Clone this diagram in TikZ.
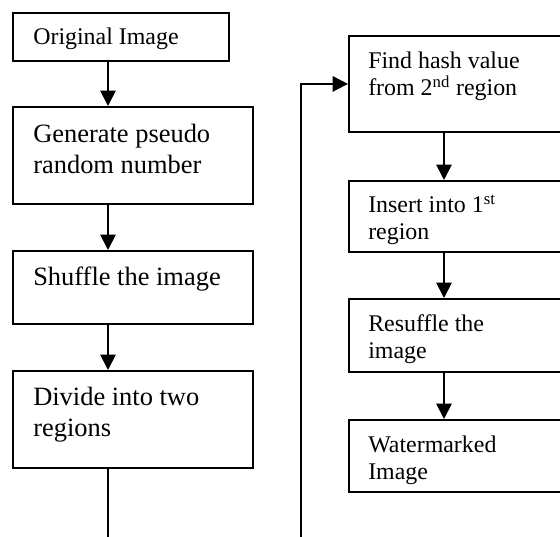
\documentclass[tikz,border=0pt]{standalone}
\usepackage{fontspec}
\setmainfont{Liberation Serif}
\usetikzlibrary{arrows.meta}

\begin{document}
\begin{tikzpicture}[x=0.025cm, y=-0.025cm,
    box/.style={rectangle, draw=black, line width=1.3pt, inner sep=0pt, anchor=north west},
    txtbig/.style={anchor=base west, inner sep=0pt, align=left, font=\fontsize{18.8}{22.3}\selectfont},
    txtsmall/.style={anchor=base west, inner sep=0pt, align=left, font=\fontsize{17}{19.2}\selectfont},
    arrow/.style={-{Triangle[length=11pt, width=11pt]}, line width=1.3pt}
]
\useasboundingbox (0,0) rectangle (560,537);
\clip (0,0) rectangle (560,537);

% Arrow columns
\coordinate (lx) at (108,0);
\coordinate (rx) at (444,0);

% Left column (text placed at its last baseline)
\node[box, minimum width=5.4cm, minimum height=1.2cm] (orig) at (12,12) {};
\node[txtsmall] (origT) at (33,45) {Original Image};
\node[box, minimum width=6cm, minimum height=2.425cm] (gen) at (12,106) {};
\node[txtbig] (genT) at (33,174) {Generate pseudo\\random number};
\node[box, minimum width=6cm, minimum height=1.825cm] (shuf) at (12,250) {};
\node[txtbig] (shufT) at (33,286) {Shuffle the image};
\node[box, minimum width=6cm, minimum height=2.425cm] (div) at (12,370) {};
\node[txtbig] (divT) at (33,437) {Divide into two\\regions};

% Right column
\node[box, minimum width=6cm, minimum height=2.4cm] (hash) at (348,35) {};
\node[txtsmall] (hashT) at (368,96) {Find hash value\\from 2\textsuperscript{nd} region};
\node[box, minimum width=6cm, minimum height=1.775cm] (ins) at (348,180) {};
\node[txtsmall] (insT) at (368,240) {Insert into 1\textsuperscript{st}\\region};
\node[box, minimum width=6cm, minimum height=1.825cm] (res) at (348,298) {};
\node[txtsmall] (resT) at (368,359) {Resuffle the\\image};
\node[box, minimum width=6cm, minimum height=1.8cm] (wat) at (348,419) {};
\node[txtsmall] (watT) at (368,479) {Watermarked\\Image};

% Arrows
\draw[arrow] (orig.south -| lx) -- (gen.north -| lx);
\draw[arrow] (gen.south -| lx) -- (shuf.north -| lx);
\draw[arrow] (shuf.south -| lx) -- (div.north -| lx);
\draw[arrow] (hash.south -| rx) -- (ins.north -| rx);
\draw[arrow] (ins.south -| rx) -- (res.north -| rx);
\draw[arrow] (res.south -| rx) -- (wat.north -| rx);

% Link between columns
\coordinate (divE) at (108,560);
\coordinate (loopS) at (301,560);
\draw[line width=1.3pt] (div.south -| lx) -- (divE);
\draw[arrow] (loopS) |- (hash.west);
\end{tikzpicture}
\end{document}
